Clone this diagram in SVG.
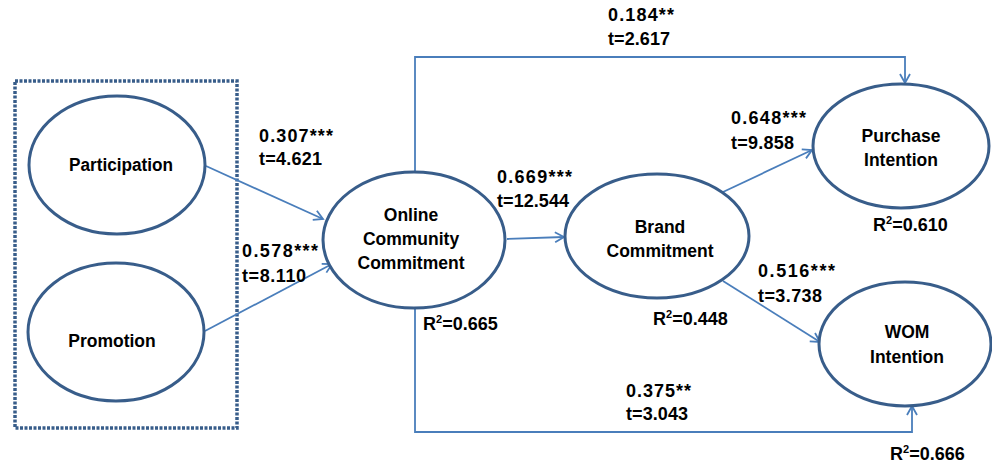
<svg xmlns="http://www.w3.org/2000/svg" width="992" height="465" viewBox="0 0 992 465">
<defs>
<style>
.node{fill:#ffffff;stroke:#385D8A;stroke-width:3}
.conn{fill:none;stroke:#4A7EBB;stroke-width:1.8}
.lbl{font-family:"Liberation Sans",Arial,sans-serif;font-size:18px;font-weight:bold;fill:#000000}
.ntx{font-family:"Liberation Sans",Arial,sans-serif;font-size:17.5px;font-weight:bold;fill:#000000;text-anchor:middle}
.box{fill:none;stroke:#385D8A;stroke-width:3.5;stroke-dasharray:3 1.5}
</style>
<marker id="arr" markerUnits="userSpaceOnUse" markerWidth="14" markerHeight="14" refX="10" refY="6" orient="auto">
<path d="M1,1 L10,6 L1,11" fill="none" stroke="#4A7EBB" stroke-width="1.8"/>
</marker>
</defs>
<rect width="992" height="465" fill="#ffffff"/>
<rect id="group-box" class="box" x="15" y="81" width="222" height="347"/>
<g id="connectors">
<path class="conn" d="M206,166 L323,219" marker-end="url(#arr)"/>
<path class="conn" d="M205,331 L332,264" marker-end="url(#arr)"/>
<path class="conn" d="M507,239 L564,237" marker-end="url(#arr)"/>
<path class="conn" d="M723,192 L812,150" marker-end="url(#arr)"/>
<path class="conn" d="M723,281 L820,342" marker-end="url(#arr)"/>
<path class="conn" d="M415,172 V57 H905 V83" marker-end="url(#arr)"/>
<path class="conn" d="M415,308 V432 H912 V406" marker-end="url(#arr)"/>
</g>
<g id="participation">
<ellipse class="node" cx="117" cy="165" rx="88" ry="69"/>
<text class="ntx" x="121" y="171" textLength="104" lengthAdjust="spacingAndGlyphs">Participation</text>
</g>
<g id="promotion">
<ellipse class="node" cx="116" cy="332" rx="88" ry="69"/>
<text class="ntx" x="112" y="347">Promotion</text>
</g>
<g id="online-community-commitment">
<ellipse class="node" cx="414" cy="240" rx="91" ry="68"/>
<text class="ntx" x="411" y="221">Online</text>
<text class="ntx" x="411" y="245">Community</text>
<text class="ntx" x="411" y="269">Commitment</text>
</g>
<g id="brand-commitment">
<ellipse class="node" cx="657" cy="236" rx="92" ry="62"/>
<text class="ntx" x="660" y="233">Brand</text>
<text class="ntx" x="660" y="257">Commitment</text>
</g>
<g id="purchase-intention">
<ellipse class="node" cx="901" cy="146" rx="88" ry="62"/>
<text class="ntx" x="901" y="142">Purchase</text>
<text class="ntx" x="901" y="166">Intention</text>
</g>
<g id="wom-intention">
<ellipse class="node" cx="905" cy="344" rx="86" ry="62"/>
<text class="ntx" x="907" y="338">WOM</text>
<text class="ntx" x="907" y="363">Intention</text>
</g>
<g id="labels">
<text class="lbl" x="608" y="21" textLength="66" lengthAdjust="spacing">0.184**</text>
<text class="lbl" x="608" y="45" textLength="62" lengthAdjust="spacing">t=2.617</text>
<text class="lbl" x="259" y="142" textLength="74" lengthAdjust="spacing">0.307***</text>
<text class="lbl" x="259" y="165" textLength="63" lengthAdjust="spacing">t=4.621</text>
<text class="lbl" x="242" y="257" textLength="76" lengthAdjust="spacing">0.578***</text>
<text class="lbl" x="242" y="282" textLength="64" lengthAdjust="spacing">t=8.110</text>
<text class="lbl" x="497" y="183" textLength="75" lengthAdjust="spacing">0.669***</text>
<text class="lbl" x="497" y="207" textLength="72" lengthAdjust="spacing">t=12.544</text>
<text class="lbl" x="731" y="124" textLength="75" lengthAdjust="spacing">0.648***</text>
<text class="lbl" x="731" y="149" textLength="63" lengthAdjust="spacing">t=9.858</text>
<text class="lbl" x="758" y="277" textLength="77" lengthAdjust="spacing">0.516***</text>
<text class="lbl" x="758" y="302" textLength="64" lengthAdjust="spacing">t=3.738</text>
<text class="lbl" x="626" y="397" textLength="65" lengthAdjust="spacing">0.375**</text>
<text class="lbl" x="626" y="420" textLength="62" lengthAdjust="spacing">t=3.043</text>
<text class="lbl" x="423" y="330">R<tspan dy="-7" font-size="11">2</tspan><tspan dy="7">=0.665</tspan></text>
<text class="lbl" x="653" y="325">R<tspan dy="-7" font-size="11">2</tspan><tspan dy="7">=0.448</tspan></text>
<text class="lbl" x="873" y="231">R<tspan dy="-7" font-size="11">2</tspan><tspan dy="7">=0.610</tspan></text>
<text class="lbl" x="890" y="460">R<tspan dy="-7" font-size="11">2</tspan><tspan dy="7">=0.666</tspan></text>
</g>
</svg>
